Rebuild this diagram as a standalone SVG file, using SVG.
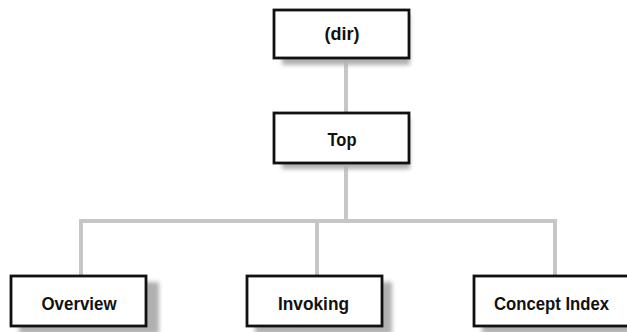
<svg xmlns="http://www.w3.org/2000/svg" width="627" height="332" viewBox="0 0 627 332">
<defs>
<filter id="blur" x="-20%" y="-30%" width="140%" height="160%"><feGaussianBlur stdDeviation="2.2"/></filter>
<style>
.shadow{fill:#b0b0b0;filter:url(#blur)}
.box{fill:#fff;stroke:#111;stroke-width:2.8}
.lbl{font-family:"Liberation Sans",Arial,sans-serif;font-weight:bold;font-size:19px;fill:#111;text-anchor:middle}
.conn{fill:none;stroke:#c6c6c6;stroke-width:4}
</style>
</defs>
<rect width="627" height="332" fill="#fff"/>
<g id="connectors">
<line class="conn" x1="346" y1="58" x2="346" y2="113"/>
<line class="conn" x1="346" y1="163" x2="346" y2="221"/>
<polyline class="conn" points="81,275 81,221 555,221 555,275"/>
<line class="conn" x1="317" y1="221" x2="317" y2="275"/>
</g>
<g id="dir">
<rect class="shadow" x="282" y="15" width="128" height="50"/>
<rect class="box" x="274" y="10" width="135" height="48"/>
<text class="lbl" x="342" y="40" textLength="35" lengthAdjust="spacingAndGlyphs">(dir)</text>
</g>
<g id="top">
<rect class="shadow" x="282" y="118" width="128" height="51"/>
<rect class="box" x="274" y="113" width="135" height="50"/>
<text class="lbl" x="342" y="146" textLength="29" lengthAdjust="spacingAndGlyphs">Top</text>
</g>
<g id="overview">
<rect class="shadow" x="19" y="282" width="140" height="52"/>
<rect class="box" x="11" y="276" width="135" height="50"/>
<text class="lbl" x="79" y="310" textLength="75" lengthAdjust="spacingAndGlyphs">Overview</text>
</g>
<g id="invoking">
<rect class="shadow" x="255" y="282" width="137" height="52"/>
<rect class="box" x="247" y="276" width="135" height="50"/>
<text class="lbl" x="313.5" y="310" textLength="71" lengthAdjust="spacingAndGlyphs">Invoking</text>
</g>
<g id="concept-index">
<rect class="shadow" x="482" y="282" width="160" height="52"/>
<rect class="box" x="474" y="276" width="160" height="50"/>
<text class="lbl" x="551.5" y="310" textLength="115" lengthAdjust="spacingAndGlyphs">Concept Index</text>
</g>
</svg>
